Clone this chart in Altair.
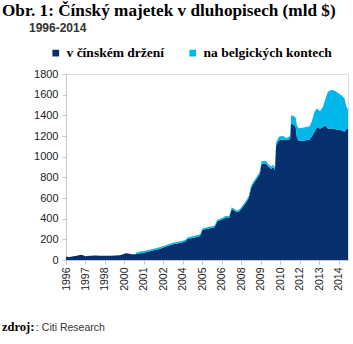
import altair as alt
import pandas as pd

# month index (0 = Jan 1996)
months = [0, 3, 6, 9, 12, 14, 16, 20, 24, 28, 32, 36, 40, 44, 47, 49, 51, 54, 57,
          58, 60, 64, 68, 72, 76, 80, 84, 88, 92, 96, 98, 100, 104, 108, 110, 112,
          116, 120, 122, 124, 128, 131, 134, 136, 138, 140, 142, 144, 148, 150, 152,
          154, 156, 159, 160.5, 164, 166, 168.5, 170, 171.5, 172.5, 175, 178, 181,
          184, 184.8, 187, 188.5, 189.5, 191, 194, 197, 200, 202, 204, 206, 208.5,
          211, 212.6, 215, 218, 220, 222, 224, 226, 228.5, 230.5, 231.5]

china = [32, 30, 36, 42, 50, 45, 36, 40, 44, 42, 40, 42, 44, 46, 55, 66, 62, 55, 56,
         58, 62, 70, 82, 95, 105, 120, 138, 152, 162, 172, 180, 205, 214, 226, 232, 290,
         302, 312, 318, 372, 392, 410, 412, 495, 480, 462, 470, 497, 560, 600, 700,
         740, 775, 830, 930, 935, 905, 880, 898, 872, 1110, 1160, 1165, 1158,
         1172, 1320, 1310, 1290, 1190, 1152, 1155, 1160, 1165, 1200, 1240, 1285, 1270,
         1288, 1305, 1272, 1272, 1268, 1263, 1258, 1255, 1240, 1270, 1265]

belgium = [0, 0, 0, 0, 0, 0, 0, 0, 0, 0, 0, 0, 0, 0, 0, 0, 0, 0, 0,
           14, 18, 18, 15, 15, 15, 15, 15, 15, 15, 15, 15, 15, 15, 15, 15, 15,
           15, 15, 15, 15, 15, 15, 15, 16, 16, 17, 17, 17, 19, 20, 22,
           22, 22, 22, 25, 25, 25, 25, 24, 24, 30, 35, 35, 22,
           28, 80, 80, 90, 115, 123, 125, 128, 130, 150, 194, 181, 170,
           194, 242, 356, 373, 372, 365, 352, 341, 325, 206, 195]

series_names = ["v čínském držení", "na belgických kontech"]
tick_values = [0, 16, 32, 48, 64, 80, 96, 112, 128, 144, 160, 176, 192, 208, 224]
tick_labels = ["1996", "1997", "1998", "2000", "2001", "2002", "2004", "2005",
               "2006", "2008", "2009", "2010", "2012", "2013", "2014"]
y_ticks = [0, 200, 400, 600, 800, 1000, 1200, 1400, 1600, 1800]

NAVY = "#062f6e"
CYAN = "#00b7eb"

rows = []
for m, c, b in zip(months, china, belgium):
    rows.append({"m": m, "v": c, "series": series_names[0], "ord": 0})
    rows.append({"m": m, "v": b, "series": series_names[1], "ord": 1})
df = pd.DataFrame(rows)

label_expr = "[" + ",".join("'%s'" % t for t in tick_labels) + "][round(datum.value/16)]"

area = alt.Chart(df).mark_area(interpolate="linear").encode(
    x=alt.X("m:Q", scale=alt.Scale(domain=[0, 231.5], nice=False, zero=False),
            axis=alt.Axis(values=tick_values, labelExpr=label_expr, labelAngle=270,
                          title=None, grid=False, labelFont="Liberation Sans",
                          labelFontSize=10.5, labelColor="#222", domainColor="#c8c8c8",
                          tickColor="#c8c8c8", tickSize=4, labelPadding=3)),
    y=alt.Y("v:Q", stack="zero", scale=alt.Scale(domain=[0, 1800], nice=False),
            axis=alt.Axis(values=y_ticks, format="d", title=None, grid=False,
                          labelFont="Liberation Sans",
                          labelFontSize=11, labelColor="#222", domainColor="#c8c8c8",
                          tickColor="#c8c8c8", tickSize=4, labelPadding=4)),
    color=alt.Color("series:N", scale=alt.Scale(domain=series_names, range=[NAVY, CYAN]),
                    legend=alt.Legend(title=None, orient="none", legendX=-17, legendY=-28,
                                      direction="horizontal", symbolType="square",
                                      symbolSize=45, symbolStrokeWidth=0, symbolOpacity=1,
                                      labelFont="Liberation Serif", labelFontWeight="bold",
                                      labelFontSize=13.5, labelColor="#000", columnPadding=22,
                                      padding=0, labelOffset=4)),
    order=alt.Order("ord:Q", sort="ascending"),
)

def txt(s, x, y, font, size, weight="normal", color="#000"):
    return alt.Chart(alt.Data(values=[{}])).mark_text(
        align="left", baseline="alphabetic", font=font, fontSize=size,
        fontWeight=weight, color=color
    ).encode(x=alt.value(x), y=alt.value(y), text=alt.value(s))

title = txt("Obr. 1: Čínský majetek v dluhopisech (mld $)", -64, -58, "Liberation Serif", 17.2, "bold")
subtitle = txt("1996-2014", -37, -42, "Liberation Sans", 12, "bold", "#333")
src1 = txt("zdroj:", -64, 257, "Liberation Serif", 12.5, "bold")
src2 = txt(": Citi Research", -30, 257, "Liberation Sans", 10.5, "normal", "#333")

chart = alt.layer(area, title, subtitle, src1, src2).properties(
    width=282, height=186,
    autosize=alt.AutoSizeParams(type="none"),
    padding={"left": 66, "top": 74, "right": 5, "bottom": 84},
).configure_view(stroke=None).configure(background="white")

chart.save("out.html", embed_options={"renderer": "svg", "actions": False})
